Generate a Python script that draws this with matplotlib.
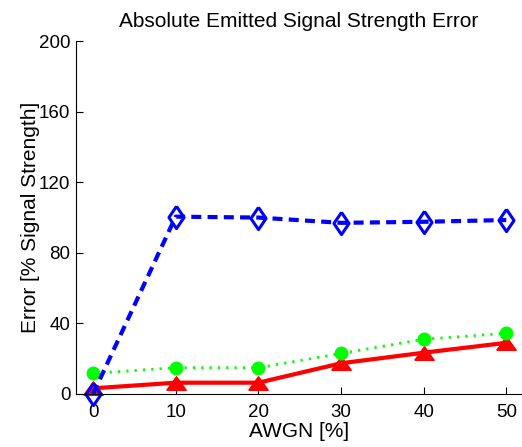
import numpy as np
from matplotlib import pyplot as plt

# donnees
awgn = [0, 10, 20, 30, 40, 50]
err_bleu = [0, 100.5, 100, 97, 97.6, 98.6]
err_vert = [11.7, 14.9, 14.9, 23, 31, 34.4]
err_rouge = [3.2, 6.4, 6.4, 17.4, 23.4, 29]
yticks = [0, 40, 80, 120, 160, 200]

plt.rcParams['font.family'] = ['Liberation Sans', 'DejaVu Sans']
plt.rcParams['font.size'] = 13.5

# marqueurs façon matlab (triangle aplati, losange étroit)
triangle = [(-1, -0.7), (1, -0.7), (0, 0.7), (-1, -0.7)]
losange = [(0, 1), (0.68, 0), (0, -1), (-0.68, 0), (0, 1)]

fig = plt.figure(figsize=(5.22, 4.47), dpi=100)
ax = fig.add_axes([0.1456, 0.1186, 0.8544, 0.7894])

ax.plot(awgn, err_rouge, '-', color=(1, 0, 0), lw=3, marker=triangle, ms=14,
        mfc=(1, 0, 0), mec=(1, 0, 0), clip_on=False)
ax.plot(awgn, err_vert, color=(0, 1, 0), lw=2, marker='o', ms=9,
        mfc=(0, 1, 0), mec=(0, 1, 0), dashes=(0.8, 2.2), clip_on=False)
ax.plot(awgn, err_bleu, '--', color=(0, 0, 1), lw=3, marker=losange, ms=16,
        mfc='none', mec=(0, 0, 1), mew=2.2, dashes=(2.4, 1.5), clip_on=False)

ax.set_xlim(-2.06, 51.9)
ax.set_ylim(0, 200)
ax.set_xticks(awgn)
ax.set_yticks(yticks)
ax.tick_params(direction='in', length=5, width=0.8)
ax.tick_params(axis='x', pad=7)
ax.tick_params(axis='y', pad=4)
ax.spines['top'].set_visible(False)
ax.spines['right'].set_visible(False)
ax.set_xlabel('AWGN [%]', fontsize=15, labelpad=1)
ax.set_ylabel('Error [% Signal Strength]', fontsize=15, labelpad=-1)
ax.set_title('Absolute Emitted Signal Strength Error', fontsize=15, pad=10)

fig.savefig('out.png', dpi=100)
